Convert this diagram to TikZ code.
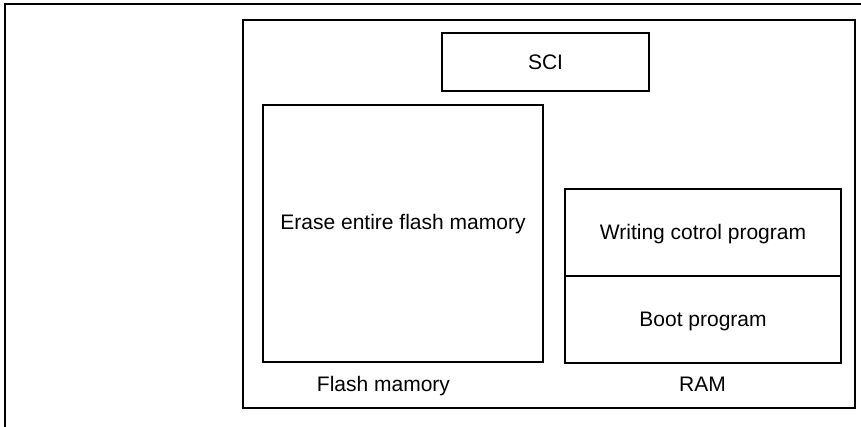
\documentclass[tikz,border=0pt]{standalone}
\usepackage{fontspec}
\setmainfont{Liberation Sans}
\usepackage{tikz}
\usetikzlibrary{positioning}
\newcommand{\boxfont}{\fontsize{21}{25}\selectfont}

\begin{document}
\begin{tikzpicture}[x=1pt, y=-1pt,
  box/.style={rectangle, draw, line width=1.3pt, inner sep=0pt, align=center, font=\boxfont, text height=14.8pt, text depth=0pt},
  lbl/.style={font=\boxfont, inner sep=0pt, anchor=base},
  node distance=0pt
]
\useasboundingbox (0,0) rectangle (861,427);
\draw[line width=2.2pt] (5,427) -- (5,4) -- (861,4);

\node[box, minimum width=612pt, minimum height=388pt] (board) at (549,214) {};
\node[box, minimum width=207pt, minimum height=58pt] (sci) at (545.5,62) {SCI};
\node[box, minimum width=280pt, minimum height=257pt] (flash) at (403,233.5) {};
\node[lbl, anchor=center, text height=14.8pt, text depth=0pt] (erase) at ([yshift=11pt]flash.center) {Erase entire flash mamory};

\node[box, minimum width=276pt, minimum height=87pt] (writer) at (703,232.5) {Writing cotrol program};
\node[box, minimum width=276pt, minimum height=87pt, below=-1.3pt of writer] (boot) {Boot program};

\node[lbl] (flashlbl) at (383.5,391.5) {Flash mamory};
\node[lbl] (ramlbl) at (702.5,391.5) {RAM};
\end{tikzpicture}
\end{document}
